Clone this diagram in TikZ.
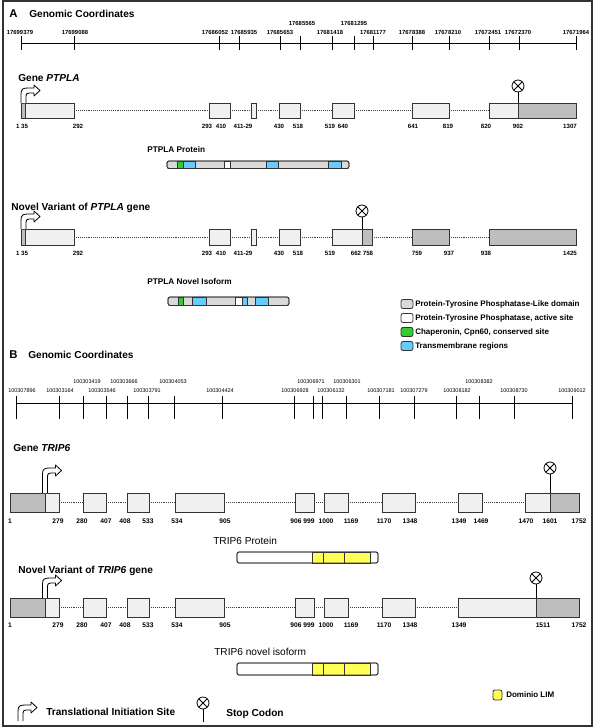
\documentclass[tikz,border=0pt]{standalone}
\usepackage{fontspec}
\setmainfont{Liberation Sans}
\usetikzlibrary{fit}
\definecolor{exl}{HTML}{F0F0F0}
\definecolor{exdk}{HTML}{BEBEBE}
\definecolor{pgray}{HTML}{D9D9D9}
\definecolor{pgreen}{HTML}{33CC33}
\definecolor{pblue}{HTML}{66CCFF}
\definecolor{pyellow}{HTML}{FFFF55}
\definecolor{bdr}{HTML}{333333}
\newcommand\ex[6][exon]{\node[#1,fit={(#3,#5)(#4,#6)}] (#2) {};}
\newcommand\tis[3]{\draw[tisst, shift={(#1,#2)}] (0,0) -- (0,{-#3+6}) .. controls (0,{-#3+1}) and (2,-#3) .. (7,-#3) -- (13,-#3) -- (13,{-#3-3}) -- (19,{-#3+2.5}) -- (13,{-#3+8}) -- (13,{-#3+5}) -- (8,{-#3+5}) .. controls (6,{-#3+5}) and (5,{-#3+6}) .. (5,{-#3+8}) -- (5,0);}
\newcommand\pseg[5]{\draw[pbarst, fill=#5] (#1,#3) rectangle (#2,#4);}
\newcommand\pout[5]{\draw[pbarst, fill=#5, rounded corners=1.6pt] (#1,#3) rectangle (#2,#4);}
\newcommand\stopx[1]{\draw[stopl] (#1.north west) -- (#1.south east) (#1.north east) -- (#1.south west);}
\begin{document}
\begin{tikzpicture}[x=0.75pt,y=-0.75pt,
  exon/.style={draw=bdr, line width=0.6pt, fill=exl, inner sep=0pt, outer sep=0pt},
  exd/.style={exon, fill=exdk},
  intron/.style={draw=black!75, densely dotted, line width=0.45pt},
  axis/.style={draw=black, line width=0.75pt},
  frame/.style={draw=bdr, line width=1.5pt},
  hdr/.style={anchor=west, inner sep=0pt, font=\fontsize{7.6}{9}\selectfont\bfseries},
  sec/.style={anchor=west, inner sep=0pt, font=\fontsize{8.5}{10}\selectfont\bfseries},
  gtitle/.style={anchor=west, inner sep=0pt, font=\fontsize{7.6}{9}\selectfont\bfseries},
  ptitle/.style={anchor=west, inner sep=0pt, font=\fontsize{6.2}{8}\selectfont\bfseries},
  rtitle/.style={anchor=west, inner sep=0pt, font=\fontsize{7.6}{9}\selectfont},
  coordA/.style={inner sep=0pt, font=\fontsize{4.4}{5}\selectfont\bfseries},
  coordB/.style={inner sep=0pt, font=\fontsize{4.1}{5}\selectfont},
  numA/.style={inner sep=0pt, font=\fontsize{4.6}{5}\selectfont\bfseries},
  numB/.style={inner sep=0pt, font=\fontsize{5}{6}\selectfont\bfseries},
  legt/.style={anchor=west, inner sep=0pt, font=\fontsize{6}{7}\selectfont\bfseries},
  legbox/.style={draw=bdr, line width=0.6pt, rounded corners=1.5pt},
  pbarst/.style={draw=bdr, line width=0.6pt},
  tisst/.style={draw=black, fill=white, line width=0.6pt, line join=round},
  stopc/.style={circle, draw=black, fill=white, line width=0.6pt, minimum size=9pt, inner sep=0pt, outer sep=0pt},
  stopl/.style={draw=black, line width=0.6pt}
]
\useasboundingbox (0,0) rectangle (600,728);
\draw[frame] (3,1) rectangle (592,726);

% ===================== A =====================
\node[sec] (tA) at (9,14) {A};
\node[hdr] (tAg) at (29,14) {Genomic Coordinates};
\draw[axis] (21,43) -- (576,43);
\foreach \t in {21,74,219,239,280,300,332,354,373,412,449,489,519,576}
  \draw[axis] (\t,36) -- (\t,50);
\foreach \x/\l in {20/17699379,75/17699088,215/17686052,244/17685935,280/17685653,330/17681418,373/17681177,412/17678388,448/17678210,488/17672451,518/17672370,576/17671964}
  \node[coordA] (ca\x) at (\x,32) {\l};
\foreach \x/\l in {302/17685565,354/17681295}
  \node[coordA] (cau\x) at (\x,23) {\l};

% Gene PTPLA
\node[gtitle] (tga) at (18,78) {Gene \textit{PTPLA}};
\ex[exd]{ga1d}{21}{25}{103}{118}
\ex{ga1}{25}{74}{103}{118}
\ex{ga2}{209}{230}{103}{118}
\ex{ga3}{251}{256}{103}{118}
\ex{ga4}{279}{300}{103}{118}
\ex{ga5}{332}{354}{103}{118}
\ex{ga6}{412}{449}{103}{118}
\ex{ga7}{489}{518}{103}{118}
\ex[exd]{ga7d}{518}{576}{103}{118}
\foreach \a/\b in {ga1/ga2,ga2/ga3,ga3/ga4,ga4/ga5,ga5/ga6,ga6/ga7}
  \draw[intron] (\a.east) -- (\b.west);
\tis{21}{103}{15}
\node[stopc] (sa) at (518,86) {};
\stopx{sa}
\draw[stopl] (sa.south) -- (ga7d.north west);
\node[numA] (la0) at (22,126) {1 35};
\foreach \x/\l in {78/292,207/293,221/410,243/411-29,279/430,298/518,330/519,343/640,413/641,448/819,486/820,518/902,570/1307}
  \node[numA] (la\x) at (\x,126) {\l};

% PTPLA protein
\node[ptitle] (tpa) at (147,150) {PTPLA Protein};
\pout{167}{349}{161}{168.5}{pgray}
\pseg{177}{183}{161}{168.5}{pgreen}
\pseg{183}{195}{161}{168.5}{pblue}
\pseg{224}{230}{161}{168.5}{white}
\pseg{266}{278}{161}{168.5}{pblue}
\pseg{328}{341}{161}{168.5}{pblue}
\pout{167}{349}{161}{168.5}{none}

% Novel variant PTPLA
\node[gtitle] (tna) at (11,208) {Novel Variant of \textit{PTPLA} gene};
\ex[exd]{na1d}{21}{25}{229}{245}
\ex{na1}{25}{74}{229}{245}
\ex{na2}{209}{230}{229}{245}
\ex{na3}{251}{256}{229}{245}
\ex{na4}{279}{300}{229}{245}
\ex{na5}{332}{362}{229}{245}
\ex[exd]{na5d}{362}{372}{229}{245}
\ex[exd]{na6}{412}{449}{229}{245}
\ex[exd]{na7}{489}{576}{229}{245}
\foreach \a/\b in {na1/na2,na2/na3,na3/na4,na4/na5,na5d/na6,na6/na7}
  \draw[intron] (\a.east) -- (\b.west);
\tis{21}{229}{15}
\node[stopc] (sna) at (362,211) {};
\stopx{sna}
\draw[stopl] (sna.south) -- (na5d.north west);
\node[numA] (lna0) at (22,253) {1 35};
\foreach \x/\l in {78/292,207/293,221/410,243/411-29,279/430,298/518,330/519,356/662,368/758,417/759,449/937,486/938,570/1425}
  \node[numA] (lna\x) at (\x,253) {\l};

% PTPLA novel isoform
\node[ptitle] (tia) at (147,282) {PTPLA Novel Isoform};
\pout{168}{289}{297}{305.5}{pgray}
\pseg{178}{183}{297}{305.5}{pgreen}
\pseg{192}{206}{297}{305.5}{pblue}
\pseg{235}{242}{297}{305.5}{white}
\pseg{242}{247}{297}{305.5}{pblue}
\pseg{255}{268}{297}{305.5}{pblue}
\pout{168}{289}{297}{305.5}{none}

% Legend A
\draw[legbox, fill=pgray] (401,299.5) rectangle (413,308.5);
\node[legt] (lg1) at (415,304) {Protein-Tyrosine Phosphatase-Like domain};
\draw[legbox, fill=white] (401,313.5) rectangle (413,322.5);
\node[legt] (lg2) at (415,318) {Protein-Tyrosine Phosphatase, active site};
\draw[legbox, fill=pgreen] (401,327.5) rectangle (413,336.5);
\node[legt] (lg3) at (415,332) {Chaperonin, Cpn60, conserved site};
\draw[legbox, fill=pblue] (401,341.5) rectangle (413,350.5);
\node[legt] (lg4) at (415,346) {Transmembrane regions};

% ===================== B =====================
\node[sec] (tB) at (9,355) {B};
\node[hdr] (tBg) at (28,355) {Genomic Coordinates};
\draw[axis] (16,403) -- (572,403);
\foreach \t in {16,59,83,106,127,148,174,222,294,313,322,346,379,414,456,479,514,572}
  \draw[axis] (\t,396) -- (\t,419);
\foreach \x/\l in {22/100307896,60/100303164,102/100303546,147/100303791,220/100304424,295/100306928,331/100306132,381/100307181,414/100307279,457/100308182,514/100308730,572/100309012}
  \node[coordB] (cb\x) at (\x,391) {\l};
\foreach \x/\l in {87/100303419,124/100303666,173/100304053,311/100306971,347/100306301,479/100308382}
  \node[coordB] (cbu\x) at (\x,382) {\l};

% Gene TRIP6
\node[gtitle] (tgb) at (13,448) {Gene \textit{TRIP6}};
\ex[exd]{gb1d}{10}{45}{493}{512}
\ex{gb1}{45}{59}{493}{512}
\ex{gb2}{83}{106}{493}{512}
\ex{gb3}{127}{149}{493}{512}
\ex{gb4}{175}{224}{493}{512}
\ex{gb5}{295}{314}{493}{512}
\ex{gb6}{324}{348}{493}{512}
\ex{gb7}{382}{415}{493}{512}
\ex{gb8}{458}{482}{493}{512}
\ex{gb9}{525}{550}{493}{512}
\ex[exd]{gb9d}{550}{579}{493}{512}
\foreach \a/\b in {gb1/gb2,gb2/gb3,gb3/gb4,gb4/gb5,gb5/gb6,gb6/gb7,gb7/gb8,gb8/gb9}
  \draw[intron] (\a.east) -- (\b.west);
\tis{42.5}{493}{25}
\node[stopc] (sb) at (550,468) {};
\stopx{sb}
\draw[stopl] (sb.south) -- (gb9d.north west);
\foreach \x/\l in {10/1,58/279,82/280,106/407,125/408,148/533,177/534,225/905,296/906,309/999,326/1000,351/1169,384/1170,410/1348,459/1349,481/1469,526/1470,550/1601,579/1752}
  \node[numB] (lb\x) at (\x,521) {\l};

% TRIP6 protein
\node[rtitle] (tpb) at (213,541) {TRIP6 Protein};
\pout{237}{378}{552}{563}{white}
\pseg{312}{323}{552}{563}{pyellow}
\pseg{323}{344}{552}{563}{pyellow}
\pseg{344}{370}{552}{563}{pyellow}
\pout{237}{378}{552}{563}{none}

% Novel variant TRIP6
\node[gtitle] (tnb) at (18,571) {Novel Variant of \textit{TRIP6} gene};
\ex[exd]{nb1d}{10}{45}{598}{617}
\ex{nb1}{45}{59}{598}{617}
\ex{nb2}{83}{106}{598}{617}
\ex{nb3}{127}{149}{598}{617}
\ex{nb4}{175}{224}{598}{617}
\ex{nb5}{295}{314}{598}{617}
\ex{nb6}{324}{348}{598}{617}
\ex{nb7}{382}{415}{598}{617}
\ex{nb8}{458}{536}{598}{617}
\ex[exd]{nb8d}{536}{579}{598}{617}
\foreach \a/\b in {nb1/nb2,nb2/nb3,nb3/nb4,nb4/nb5,nb5/nb6,nb6/nb7,nb7/nb8}
  \draw[intron] (\a.east) -- (\b.west);
\tis{42.5}{598}{20}
\node[stopc] (snb) at (536,578) {};
\stopx{snb}
\draw[stopl] (snb.south) -- (nb8d.north west);
\foreach \x/\l in {10/1,58/279,82/280,106/407,125/408,148/533,177/534,225/905,296/906,309/999,326/1000,351/1169,384/1170,410/1348,459/1349,543/1511,579/1752}
  \node[numB] (lnb\x) at (\x,625) {\l};

% TRIP6 novel isoform
\node[rtitle] (tib) at (214,652) {TRIP6 novel isoform};
\pout{237}{378}{663}{675}{white}
\pseg{312}{323}{663}{675}{pyellow}
\pseg{323}{344}{663}{675}{pyellow}
\pseg{344}{370}{663}{675}{pyellow}
\pout{237}{378}{663}{675}{none}

% Legend B
\draw[legbox, fill=pyellow] (493,690) rectangle (502,700);
\node[legt] (lgy) at (506,695) {Dominio LIM};

% Bottom legend
\tis{18}{721}{16}
\node[gtitle] (ltis) at (46,712) {Translational Initiation Site};
\node[stopc] (lstop) at (203,703) {};
\stopx{lstop}
\coordinate (lstopend) at (203,722);
\draw[stopl] (lstop.south) -- (lstopend);
\node[gtitle] (lsc) at (226,714) {Stop Codon};
\end{tikzpicture}
\end{document}
